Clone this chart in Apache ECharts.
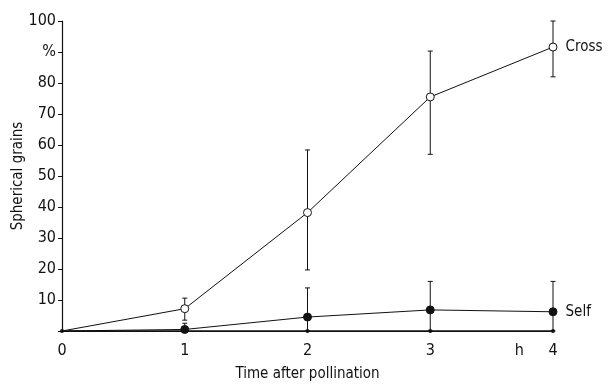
<!DOCTYPE html>
<html><head><meta charset="utf-8">
<script src="https://cdn.jsdelivr.net/npm/echarts@6/dist/echarts.min.js"></script>
<style>html,body{margin:0;padding:0;background:#fff}#c{width:616px;height:385px}</style>
</head><body><div id="c"></div>
<script>
const hours = [0, 1, 2, 3, 4];
const crossMean = [0, 7.2, 38.2, 75.5, 91.6];
const crossLow  = [null, 3.5, 19.7, 57, 82];
const crossHigh = [null, 10.6, 58.4, 90.3, 100];
const selfMean = [0, 0.5, 4.5, 6.8, 6.2];
const selfLow  = [null, 0, 0, 0, 0];
const selfHigh = [null, 2.5, 13.9, 16, 16];
const baseline = [0, 0, 0, 0, 0];
const yTicks = [0, 10, 20, 30, 40, 50, 60, 70, 80, '%', 100];
const FONT = "'Liberation Sans Narrow','DejaVu Sans Condensed',sans-serif";

const chart = echarts.init(document.getElementById('c'), null, {renderer: 'canvas'});

function errData(low, high) {
  const out = [];
  hours.forEach((h, i) => { if (low[i] != null) out.push([h, low[i], high[i]]); });
  return out;
}
function errSeries(low, high) {
  return {
    type: 'custom', z: 1,
    data: errData(low, high),
    renderItem: function (params, api) {
      const x = api.value(0);
      const lo = api.coord([x, api.value(1)]);
      const hi = api.coord([x, api.value(2)]);
      const w = 2.5;
      const style = {stroke: '#111', lineWidth: 1};
      return {type: 'group', children: [
        {type: 'line', shape: {x1: lo[0], y1: lo[1], x2: hi[0], y2: hi[1]}, style},
        {type: 'line', shape: {x1: lo[0]-w, y1: lo[1], x2: lo[0]+w, y2: lo[1]}, style},
        {type: 'line', shape: {x1: hi[0]-w, y1: hi[1], x2: hi[0]+w, y2: hi[1]}, style}
      ]};
    }
  };
}
function pts(vals, size) {
  return hours.map((h, i) => i === 0 ? {value: [h, vals[i]], symbol: 'none'} : {value: [h, vals[i]], symbolSize: size});
}

chart.setOption({
  animation: false,
  grid: {left: 62, right: 63, top: 21, bottom: 54, outerBoundsMode: 'none', containLabel: false},
  xAxis: {
    type: 'value', min: 0, max: 4, interval: 1,
    name: 'Time after pollination', nameLocation: 'middle', nameGap: 36,
    nameTextStyle: {fontFamily: FONT, fontSize: 15, color: '#111'},
    axisLine: {show: true, lineStyle: {color: '#111', width: 1.2}},
    axisTick: {show: false},
    splitLine: {show: false},
    axisLabel: {fontFamily: FONT, fontSize: 16, color: '#111', margin: 12}
  },
  yAxis: {
    type: 'value', min: 0, max: 100, interval: 10,
    name: 'Spherical grains', nameLocation: 'middle', nameGap: 36, nameMoveOverlap: false,
    nameTextStyle: {fontFamily: FONT, fontSize: 15, color: '#111'},
    axisLine: {show: true, lineStyle: {color: '#111', width: 1.2}},
    axisTick: {show: true, length: 4, inside: false, lineStyle: {color: '#111'}},
    splitLine: {show: false},
    axisLabel: {
      fontFamily: FONT, fontSize: 16, color: '#111', margin: 6,
      formatter: function (v) { const i = Math.round(v / 10); return i === 0 ? '' : String(yTicks[i]); }
    }
  },
  series: [
    errSeries(crossLow, crossHigh),
    errSeries(selfLow, selfHigh),
    {
      type: 'line', name: 'Baseline', z: 2,
      data: hours.map((h, i) => [h, baseline[i]]),
      symbol: 'circle', symbolSize: 4, showSymbol: true,
      lineStyle: {color: '#111', width: 1.5}, itemStyle: {color: '#111'}
    },
    {
      type: 'line', name: 'Self', z: 3,
      data: pts(selfMean, 8),
      symbol: 'circle', showSymbol: true,
      lineStyle: {color: '#111', width: 1}, itemStyle: {color: '#111', borderColor: '#111'},
      label: {show: true, position: 'right', distance: 8, fontFamily: FONT, fontSize: 15, color: '#111',
        formatter: p => p.dataIndex === hours.length - 1 ? 'Self' : ''}
    },
    {
      type: 'line', name: 'Cross', z: 4,
      data: pts(crossMean, 8),
      symbol: 'circle', showSymbol: true,
      lineStyle: {color: '#111', width: 1}, itemStyle: {color: '#fff', borderColor: '#111', borderWidth: 1},
      label: {show: true, position: 'right', distance: 8, fontFamily: FONT, fontSize: 15, color: '#111',
        formatter: p => p.dataIndex === hours.length - 1 ? 'Cross' : ''}
    }
  ]
});
const hp = chart.convertToPixel({gridIndex: 0}, [3.72, 0]);
chart.setOption({graphic: [{type: 'text', left: hp[0] - 4, top: hp[1] + 12,
  style: {text: 'h', font: '16px ' + FONT, fill: '#111'}}]});
</script></body></html>
